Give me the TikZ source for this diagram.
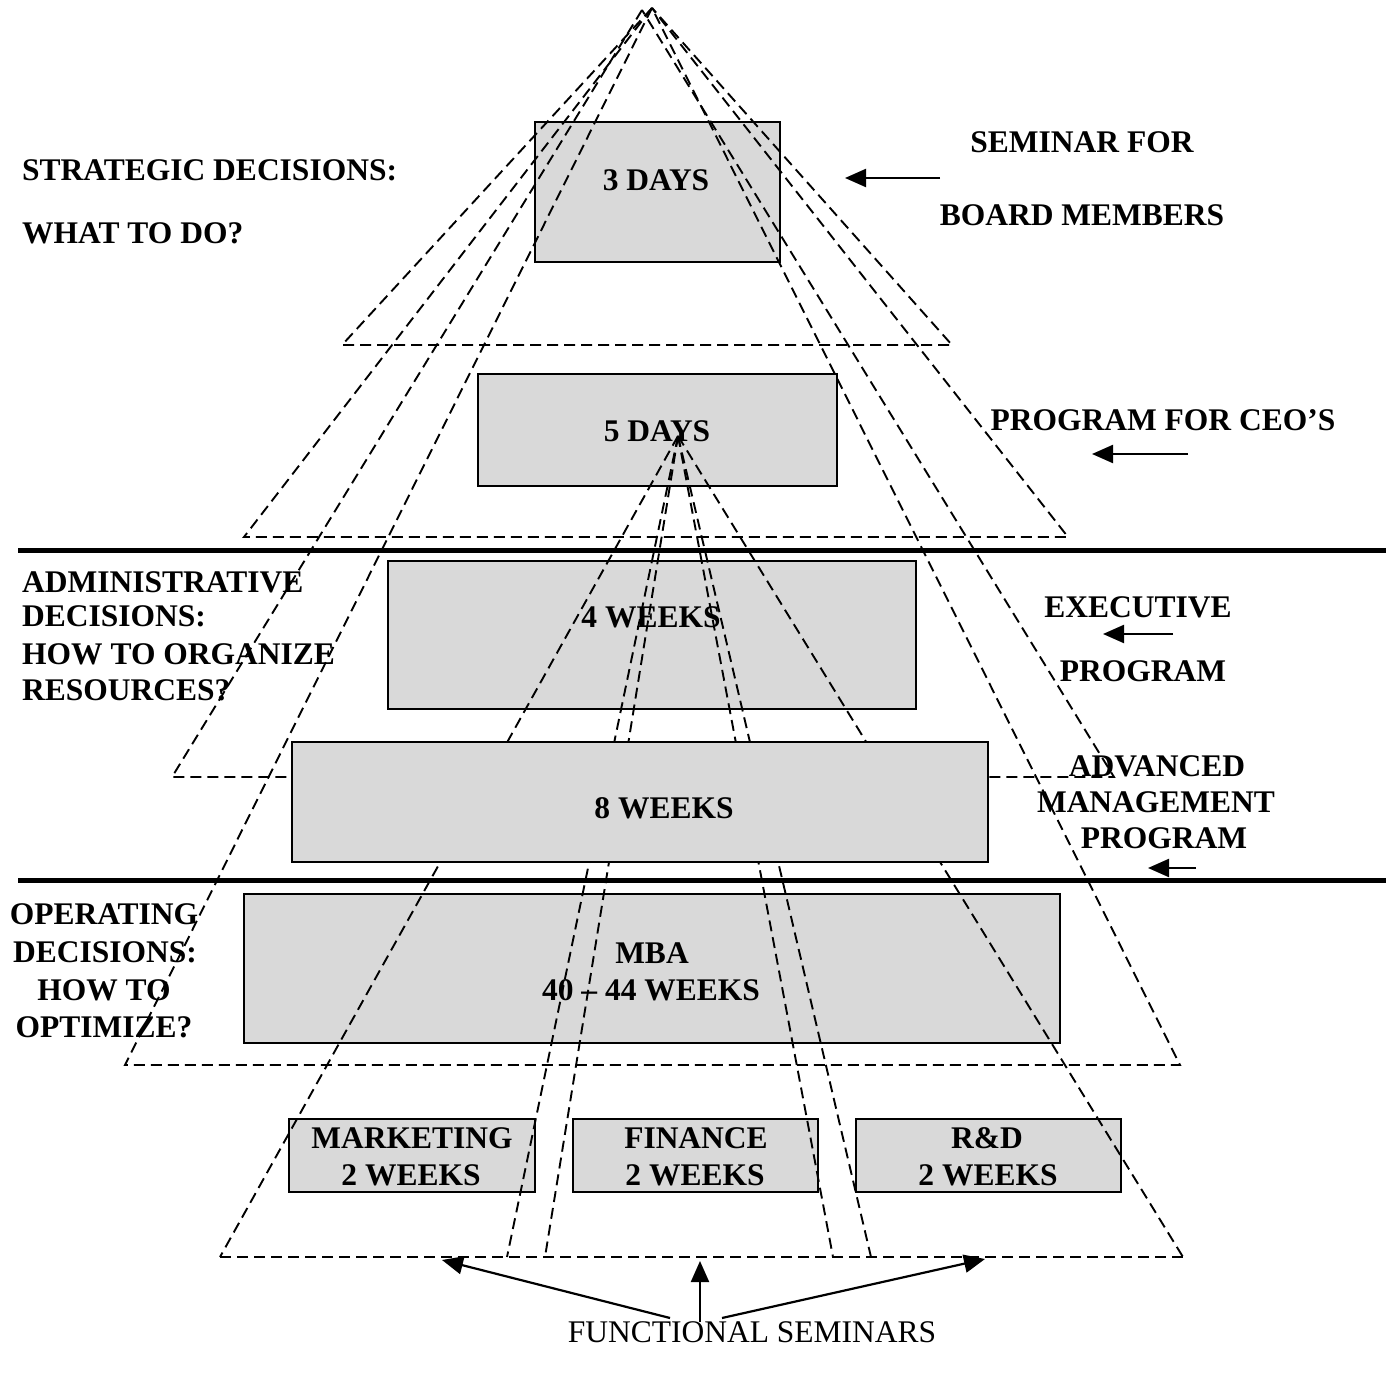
\documentclass[tikz,border=0pt]{standalone}
\usepackage{fontspec}
\setmainfont{Liberation Serif}
\usetikzlibrary{arrows.meta}
\definecolor{boxgray}{RGB}{217,217,217}
\begin{document}
\begin{tikzpicture}[x=1pt,y=-1pt,
  box/.style={draw=black, line width=2.6pt, fill=boxgray, rectangle, inner sep=0pt},
  tri/.style={draw=black, line width=1.9pt, dash pattern=on 11pt off 6pt},
  bt/.style={font=\fontsize{31.5}{36}\selectfont\bfseries, inner sep=0pt, anchor=base},
  btl/.style={bt, anchor=base west},
  rt/.style={font=\fontsize{31.5}{36}\selectfont, inner sep=0pt, anchor=base},
  sep/.style={draw=black, line width=5pt},
  arr/.style={draw=black, line width=2.2pt, -{Triangle[length=21pt,width=18pt]}}
]
\useasboundingbox (0,0) rectangle (1398,1375);

% apex and base points of the dashed triangles
\coordinate (A1) at (652,8);
\coordinate (A3) at (642,10);
\coordinate (A2) at (678,436);
\coordinate (T1l) at (342,345);  \coordinate (T1r) at (952,345);
\coordinate (T2l) at (244,537);  \coordinate (T2r) at (1068,537);
\coordinate (T3l) at (172,777);  \coordinate (T3r) at (1114,777);
\coordinate (T4l) at (125,1065); \coordinate (T4r) at (1180,1065);
\coordinate (F1) at (220,1257);  \coordinate (F2) at (507,1257);
\coordinate (F3) at (545,1257);  \coordinate (F4) at (833,1257);
\coordinate (F5) at (871,1257);  \coordinate (F6) at (1183,1257);

% separator lines
\coordinate (S1a) at (18,550); \coordinate (S1b) at (1386,550);
\coordinate (S2a) at (18,880); \coordinate (S2b) at (1386,880);
\draw[sep] (S1a) -- (S1b);
\draw[sep] (S2a) -- (S2b);

% boxes (under the dashed lines)
\node[box, minimum width=245pt, minimum height=140pt] (b3d) at (657.5,192) {};
\node[bt] (t3d) at (656,190.5) {3 DAYS};
\node[box, minimum width=359pt, minimum height=112pt] (b5d) at (657.5,430) {};
\node[bt] (t5d) at (657,441.5) {5 DAYS};
\node[box, minimum width=528pt, minimum height=148pt] (b4w) at (652,635) {};
\node[bt] (t4w) at (651,627.5) {4 WEEKS};
\node[box, minimum width=816pt, minimum height=149pt] (bmba) at (652,968.5) {};
\node[bt] (tmba1) at (652,963.5) {MBA};
\node[bt] (tmba2) at (651,1000.5) {40 – 44 WEEKS};
\node[box, minimum width=246pt, minimum height=73pt] (bmk) at (412,1155.5) {};
\node[bt] (tmk1) at (412,1148.5) {MARKETING};
\node[bt] (tmk2) at (411,1185.5) {2 WEEKS};
\node[box, minimum width=245pt, minimum height=73pt] (bfi) at (695.5,1155.5) {};
\node[bt] (tfi1) at (696,1148.5) {FINANCE};
\node[bt] (tfi2) at (695,1185.5) {2 WEEKS};
\node[box, minimum width=265pt, minimum height=73pt] (brd) at (988.5,1155.5) {};
\node[bt] (trd1) at (987,1148.5) {R\&D};
\node[bt] (trd2) at (988,1185.5) {2 WEEKS};

% dashed triangles
\draw[tri] (A1) -- (T1l) -- (T1r) -- cycle;
\draw[tri] (A1) -- (T2l) -- (T2r) -- cycle;
\draw[tri] (A3) -- (T3l) -- (T3r) -- cycle;
\draw[tri] (A1) -- (T4l) -- (T4r) -- cycle;
\draw[tri] (F1) -- (F6);
\draw[tri] (A2) -- (F1);
\draw[tri] (A2) -- (F2);
\draw[tri] (A2) -- (F3);
\draw[tri] (A2) -- (F4);
\draw[tri] (A2) -- (F5);
\draw[tri] (A2) -- (F6);

% 8 weeks box on top
\node[box, minimum width=696pt, minimum height=120pt] (b8w) at (640,802) {};
\node[bt] (t8w) at (664,818.5) {8 WEEKS};

% left texts
\node[btl] (l1) at (22,180.5) {STRATEGIC DECISIONS:};
\node[btl] (l2) at (22,243.5) {WHAT TO DO?};
\node[btl] (l3) at (22,592.5) {ADMINISTRATIVE};
\node[btl] (l4) at (22,626.5) {DECISIONS:};
\node[btl] (l5) at (22,664.5) {HOW TO ORGANIZE};
\node[btl] (l6) at (22,700.5) {RESOURCES?};
\node[bt] (l7) at (104,924.5) {OPERATING};
\node[bt] (l8) at (105,962.5) {DECISIONS:};
\node[bt] (l9) at (104,1000.5) {HOW TO};
\node[bt] (l10) at (104,1037.5) {OPTIMIZE?};

% right texts
\node[bt] (r1) at (1082,152.5) {SEMINAR FOR};
\node[bt] (r2) at (1082,225.5) {BOARD MEMBERS};
\node[bt] (r3) at (1163,430.5) {PROGRAM FOR CEO’S};
\node[bt] (r4) at (1138,617.5) {EXECUTIVE};
\node[bt] (r5) at (1143,681.5) {PROGRAM};
\node[bt] (r6) at (1157,776.5) {ADVANCED};
\node[bt] (r7) at (1156,812.5) {MANAGEMENT};
\node[bt] (r8) at (1164,848.5) {PROGRAM};

% right arrows
\coordinate (ra1s) at (940,178);  \coordinate (ra1e) at (845,178);
\coordinate (ra2s) at (1188,454); \coordinate (ra2e) at (1092,454);
\coordinate (ra3s) at (1173,634); \coordinate (ra3e) at (1103,634);
\coordinate (ra4s) at (1196,868); \coordinate (ra4e) at (1148,868);
\draw[arr] (ra1s) -- (ra1e);
\draw[arr] (ra2s) -- (ra2e);
\draw[arr] (ra3s) -- (ra3e);
\draw[arr] (ra4s) -- (ra4e);

% functional seminars
\node[rt] (fs) at (752,1342.5) {FUNCTIONAL SEMINARS};
\coordinate (fa1s) at (670,1318); \coordinate (fa1e) at (442,1260);
\coordinate (fa2s) at (700,1322); \coordinate (fa2e) at (700,1261);
\coordinate (fa3s) at (722,1318); \coordinate (fa3e) at (985,1259);
\draw[arr] (fa1s) -- (fa1e);
\draw[arr] (fa2s) -- (fa2e);
\draw[arr] (fa3s) -- (fa3e);
\end{tikzpicture}
\end{document}
